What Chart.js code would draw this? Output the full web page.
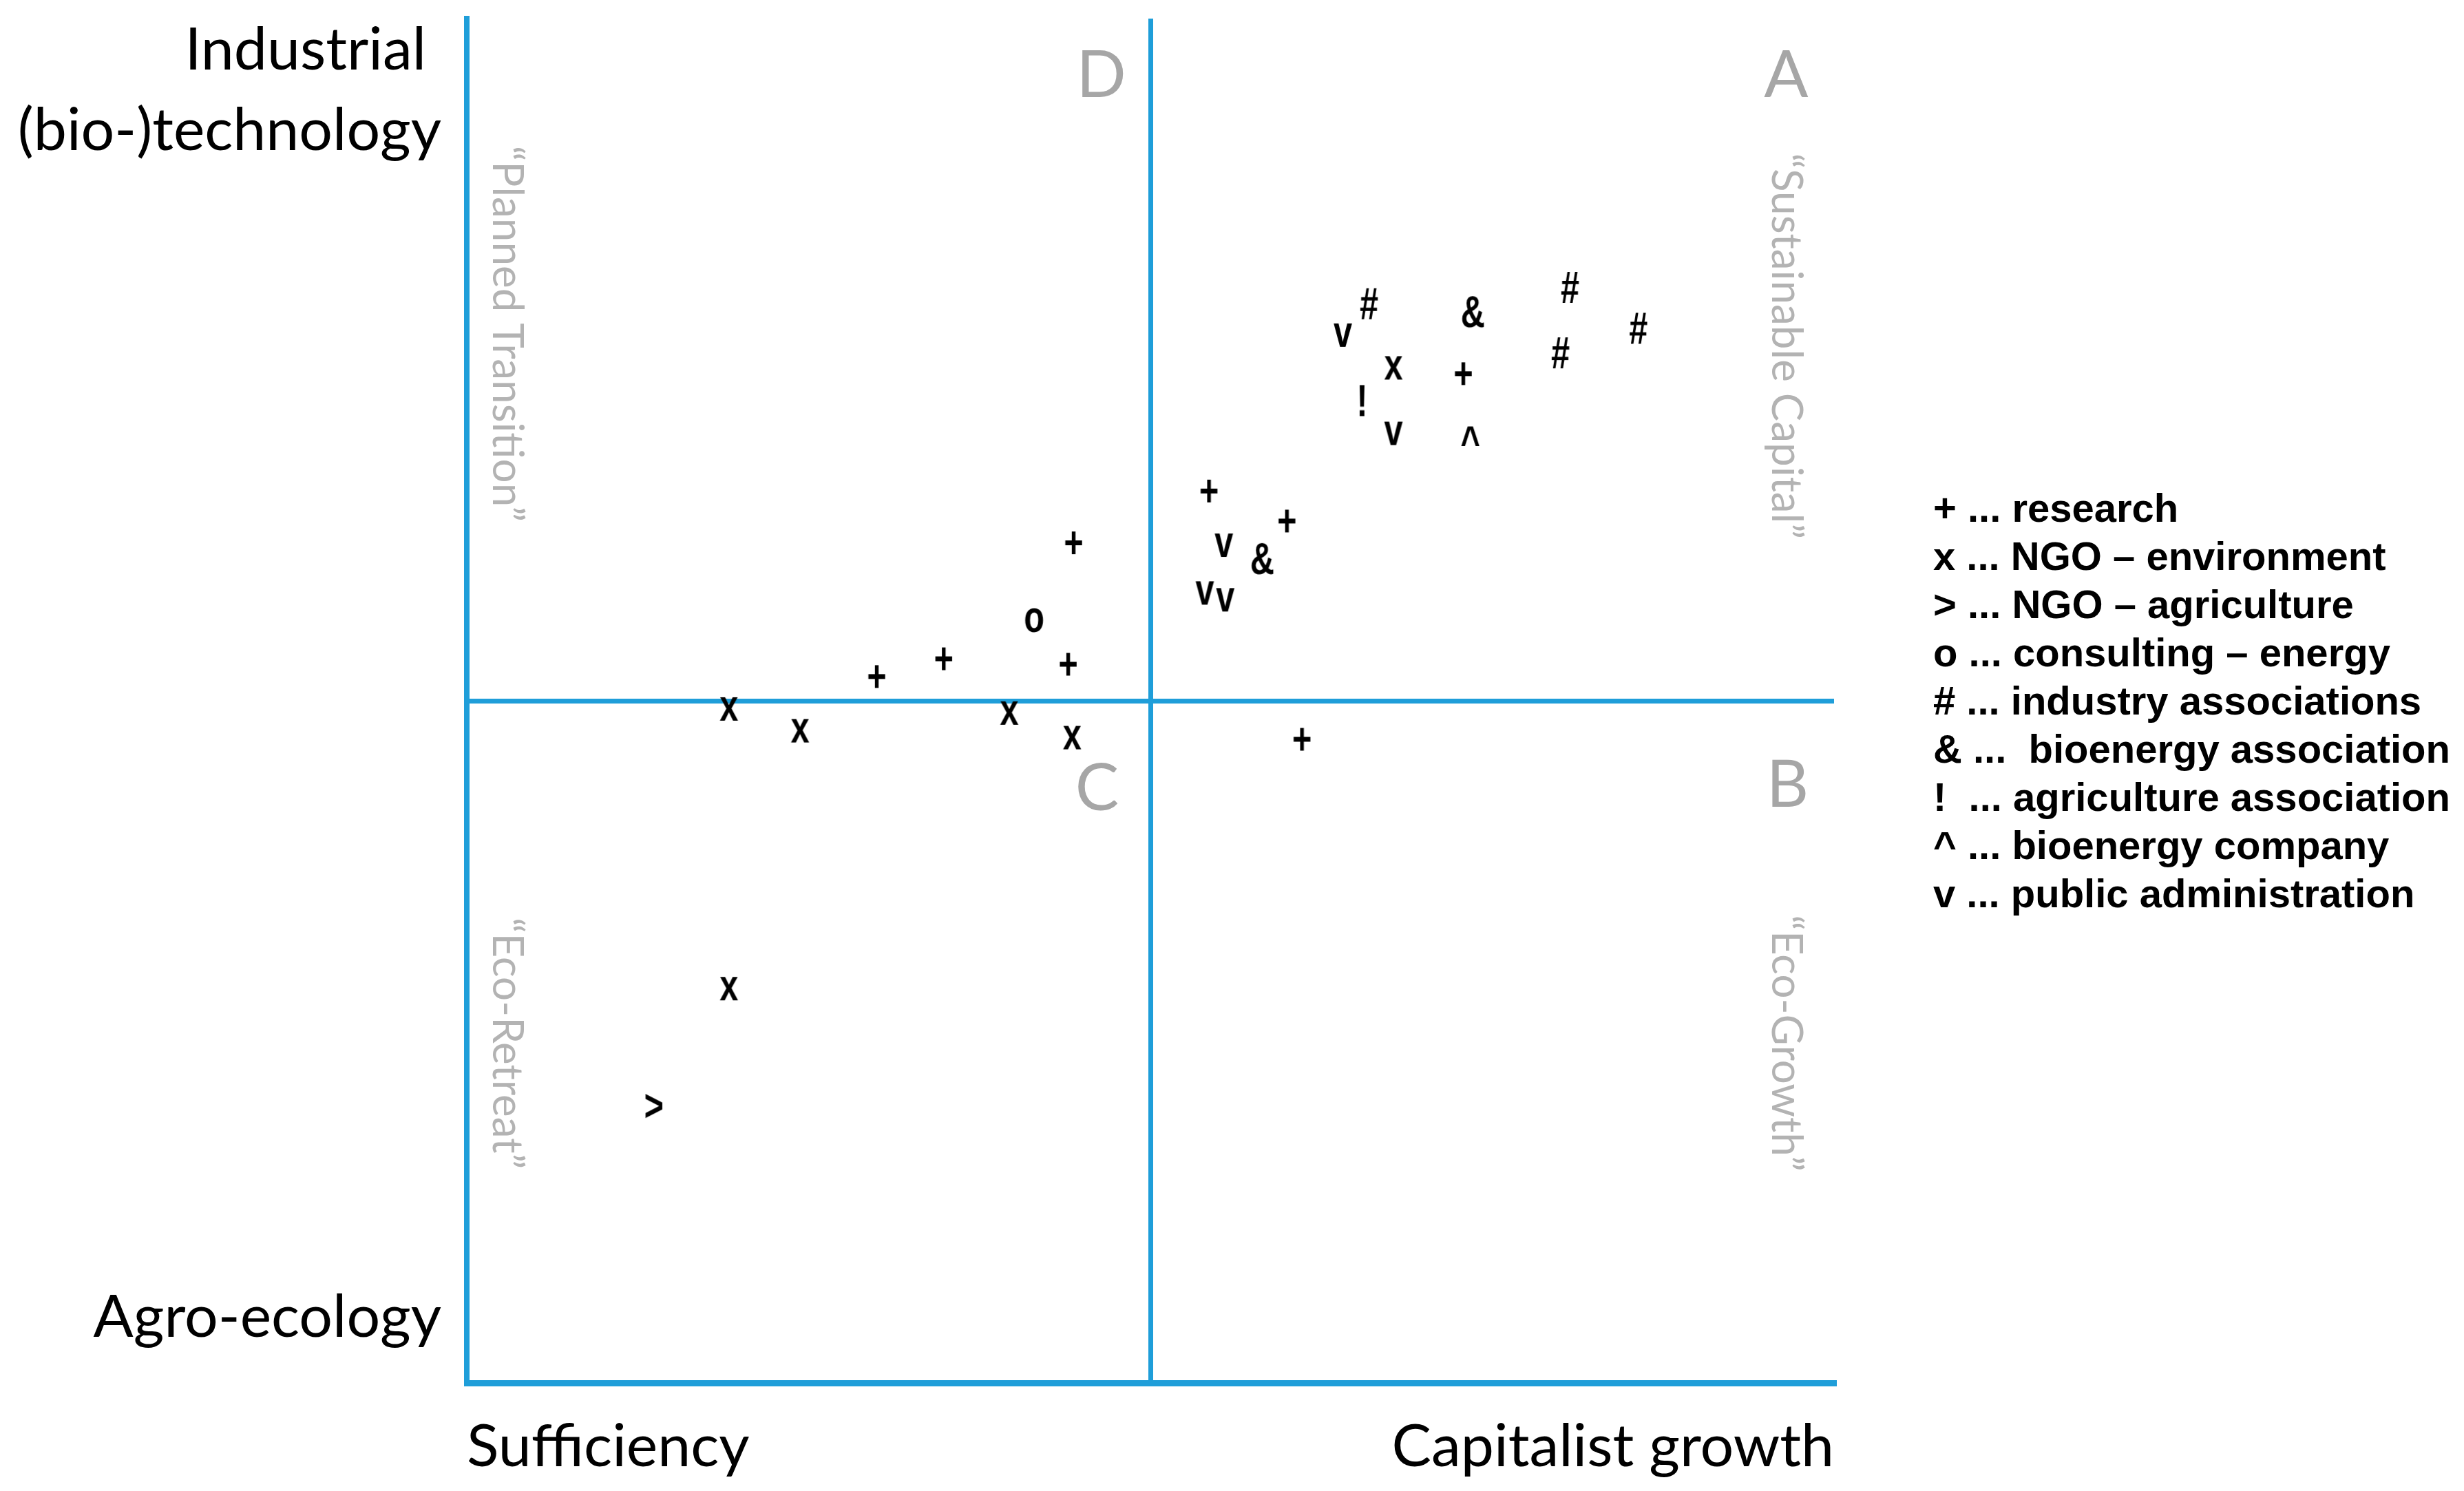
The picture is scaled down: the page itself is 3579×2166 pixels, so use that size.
<!DOCTYPE html>
<html>
<head>
<meta charset="utf-8">
<title>Stakeholder positions</title>
<script src="https://cdn.jsdelivr.net/npm/chart.js@4.4.1/dist/chart.umd.min.js"></script>
<style>
  html, body { margin: 0; padding: 0; background: #fff; }
  canvas { display: block; }
</style>
</head>
<body>
<canvas id="quadrant-chart" width="3579" height="2166"></canvas>
<script>
// stakeholder groups and the glyph used for each one
const categories = ['research', 'NGO – environment', 'NGO – agriculture', 'consulting – energy',
    'industry associations', 'bioenergy association', 'agriculture association',
    'bioenergy company', 'public administration'];
const symbols = ['+', 'x', '>', 'o', '#', '&', '!', '^', 'v'];
const legendLabels = ['+ ... research', 'x ... NGO – environment', '> ... NGO – agriculture',
    'o ... consulting – energy', '# ... industry associations', '& ...  bioenergy association',
    '!  ... agriculture association', '^ ... bioenergy company', 'v ... public administration'];

// positions on both axes, 0 .. 10 (5 = the quadrant border)
const researchX = [3.00, 3.49, 4.40, 4.44, 5.43, 6.00, 6.11, 7.29];
const researchY = [5.18, 5.31, 5.27, 6.16, 6.54, 6.32, 4.72, 7.40];
const ngoEnvX = [1.92, 2.44, 3.97, 4.43, 1.92, 6.78];
const ngoEnvY = [4.94, 4.78, 4.91, 4.73, 2.89, 7.44];
const ngoAgriX = [1.37];
const ngoAgriY = [2.03];
const consultingX = [4.15];
const consultingY = [5.59];
const industryX = [6.60, 8.07, 8.57, 8.00];
const industryY = [7.91, 8.03, 7.73, 7.55];
const bioAssocX = [7.36, 5.82];
const bioAssocY = [7.85, 6.04];
const agriAssocX = [6.55];
const agriAssocY = [7.20];
const bioCompanyX = [7.34];
const bioCompanyY = [6.94];
const publicAdminX = [6.41, 6.78, 5.54, 5.40, 5.55];
const publicAdminY = [7.68, 6.96, 6.14, 5.79, 5.74];

const seriesX = [researchX, ngoEnvX, ngoAgriX, consultingX, industryX, bioAssocX, agriAssocX, bioCompanyX, publicAdminX];
const seriesY = [researchY, ngoEnvY, ngoAgriY, consultingY, industryY, bioAssocY, agriAssocY, bioCompanyY, publicAdminY];

// axis end labels
const xTickValues = [0, 5, 10];
const xTickLabels = ['Sufficiency', '', 'Capitalist growth'];
const yTickValues = [0.48, 5, 9.47];
const yTickLabels = ['Agro-ecology', '', ['Industrial ', '(bio-)technology']];

// quadrants
const quadrantLetters = ['A', 'B', 'C', 'D'];
const quadrantNames = ['\u201CSustainable Capital\u201D', '\u201CEco-Growth\u201D', '\u201CEco-Retreat\u201D', '\u201CPlanned Transition\u201D'];

const BLUE = '#1f9ed9';
const GREY = '#a6a6a6';
const LABEL_FONT = 'Lato, "Open Sans", sans-serif';

// letter anchors and rotated name anchors, in axis units
const letterAnchors = [[9.65, 9.58], [9.66, 4.38], [4.61, 4.35], [4.64, 9.58]];
const nameAnchors = [[9.65, 7.60], [9.65, 2.49], [0.29, 2.49], [0.29, 7.69]];

function glyphCanvas(ch) {
    const font = 'bold 64px "Liberation Sans", Arial, sans-serif';
    const squeeze = 0.76;
    const probe = document.createElement('canvas').getContext('2d');
    probe.font = font;
    const m = probe.measureText(ch);
    const w = Math.ceil((m.actualBoundingBoxLeft + m.actualBoundingBoxRight) * squeeze) + 4;
    const h = Math.ceil(m.actualBoundingBoxAscent + m.actualBoundingBoxDescent) + 4;
    const c = document.createElement('canvas');
    c.width = w;
    c.height = h;
    const g = c.getContext('2d');
    g.font = font;
    g.fillStyle = '#000';
    g.textAlign = 'left';
    g.textBaseline = 'alphabetic';
    g.translate(2, 2 + m.actualBoundingBoxAscent);
    g.scale(squeeze, 1);
    g.fillText(ch, m.actualBoundingBoxLeft, 0);
    return c;
}

const quadrantText = {
    id: 'quadrantText',
    afterDatasetsDraw(chart) {
        const { ctx, scales } = chart;
        ctx.save();
        ctx.fillStyle = GREY;
        ctx.textAlign = 'center';
        ctx.textBaseline = 'middle';
        ctx.font = '95px ' + LABEL_FONT;
        quadrantLetters.forEach((l, i) => {
            ctx.fillText(l, scales.x.getPixelForValue(letterAnchors[i][0]), scales.y.getPixelForValue(letterAnchors[i][1]));
        });
        ctx.font = '62px ' + LABEL_FONT;
        ctx.fillStyle = '#b3b3b3';
        quadrantNames.forEach((n, i) => {
            ctx.save();
            ctx.translate(scales.x.getPixelForValue(nameAnchors[i][0]), scales.y.getPixelForValue(nameAnchors[i][1]));
            ctx.rotate(Math.PI / 2);
            ctx.fillText(n, 0, 0);
            ctx.restore();
        });
        ctx.restore();
    }
};

const legendText = {
    id: 'legendText',
    afterDraw(chart) {
        const { ctx, chartArea } = chart;
        ctx.save();
        ctx.font = 'bold 58px "Liberation Sans", Arial, sans-serif';
        ctx.fillStyle = '#000';
        ctx.textAlign = 'left';
        ctx.textBaseline = 'middle';
        legendLabels.forEach((t, i) => ctx.fillText(t, chartArea.right + 144, 742 + i * 70));
        ctx.restore();
    }
};

function noPadding(s) {
    s.paddingTop = 0;
    s.paddingBottom = 0;
    s.paddingLeft = 0;
    s.paddingRight = 0;
}

const glyphs = symbols.map(glyphCanvas);

const ctx = document.getElementById('quadrant-chart').getContext('2d');
new Chart(ctx, {
    type: 'scatter',
    data: {
        datasets: categories.map((name, i) => ({
            label: name,
            data: seriesX[i].map((x, j) => ({ x: x, y: seriesY[i][j] })),
            pointStyle: glyphs[i],
            pointRadius: 12,
            pointHoverRadius: 12
        }))
    },
    options: {
        responsive: false,
        animation: false,
        events: [],
        layout: { padding: { top: 27, right: 915, left: 0, bottom: 0 } },
        plugins: {
            legend: { display: false },
            tooltip: { enabled: false }
        },
        scales: {
            x: {
                type: 'linear',
                min: 0,
                max: 10,
                afterFit: s => { s.height = 157; noPadding(s); },
                afterBuildTicks: s => { s.ticks = xTickValues.map(v => ({ value: v })); },
                ticks: {
                    callback: (v, i) => xTickLabels[i],
                    align: 'inner',
                    autoSkip: false,
                    maxRotation: 0,
                    padding: 42,
                    color: '#000',
                    font: { family: LABEL_FONT, size: 86 }
                },
                grid: {
                    color: c => (c.tick && c.tick.value === 5 ? BLUE : 'rgba(0,0,0,0)'),
                    lineWidth: 7,
                    drawTicks: false
                },
                border: { color: BLUE, width: 9 }
            },
            y: {
                type: 'linear',
                min: 0,
                max: 10,
                afterFit: s => { s.width = 678; noPadding(s); },
                afterBuildTicks: s => { s.ticks = yTickValues.map(v => ({ value: v })); },
                ticks: {
                    callback: (v, i) => yTickLabels[i],
                    autoSkip: false,
                    padding: 37,
                    color: '#000',
                    font: { family: LABEL_FONT, size: 86, lineHeight: 1.36 }
                },
                grid: {
                    color: c => (c.tick && c.tick.value === 5 ? BLUE : 'rgba(0,0,0,0)'),
                    lineWidth: 7,
                    drawTicks: false
                },
                border: { color: BLUE, width: 8 }
            }
        }
    },
    plugins: [quadrantText, legendText]
});
</script>
</body>
</html>
